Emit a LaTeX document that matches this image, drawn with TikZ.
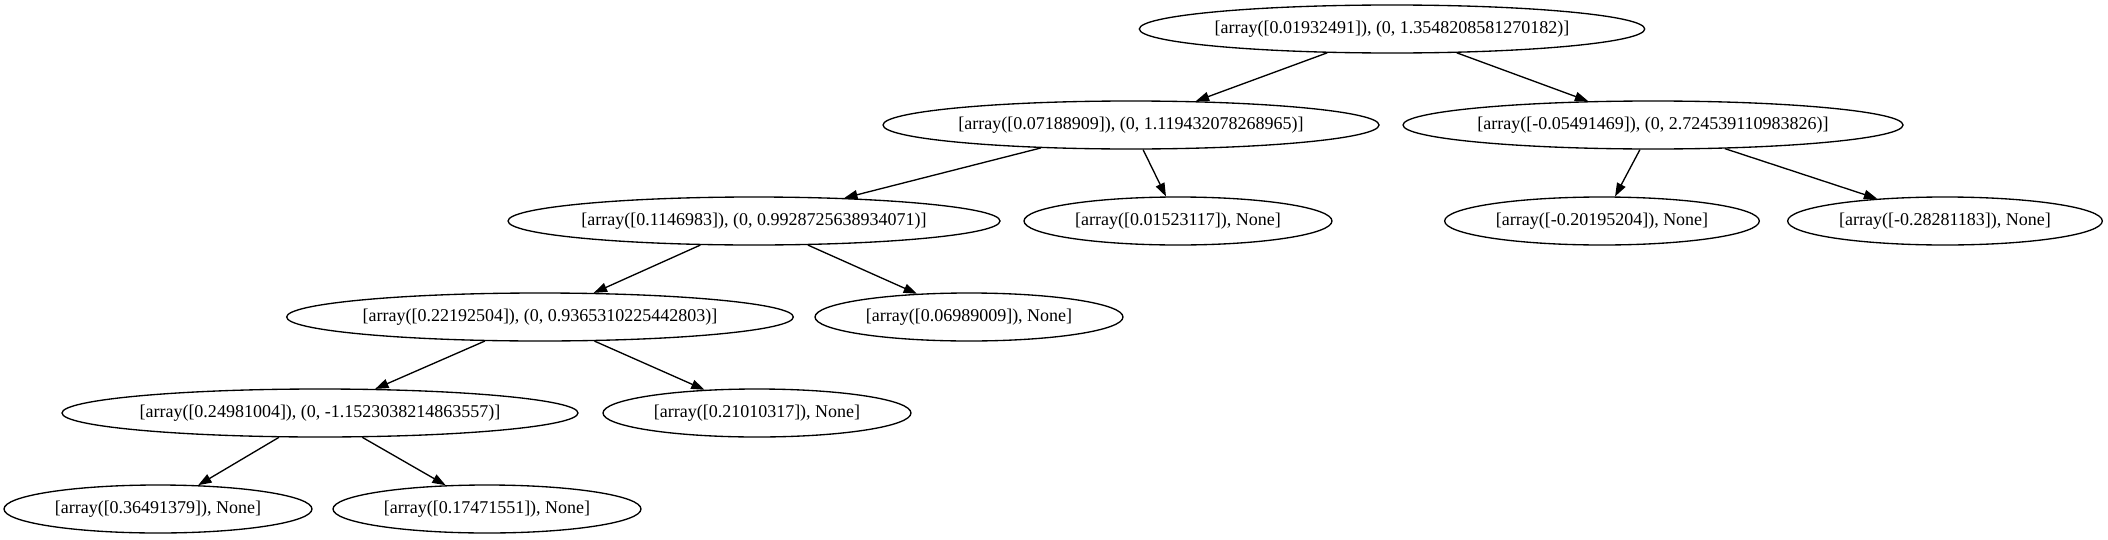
\documentclass[tikz,border=0pt]{standalone}
\usepackage{fontspec}
\setmainfont{Liberation Serif}
\usetikzlibrary{shapes.geometric,arrows.meta}

\tikzstyle{split} = [draw, ellipse, line width=1pt, inner xsep=-60pt, inner ysep=0pt, minimum height=36pt, minimum width=378pt, font=\fontsize{13.5pt}{16pt}\selectfont]
\tikzstyle{leaf} = [split, minimum width=231pt]
\tikzstyle{line} = [draw, line width=1pt, -{Triangle[length=10pt,width=7pt]}]

\begin{document}
\begin{tikzpicture}[x=0.75pt,y=-0.75pt]
\useasboundingbox (0,0) rectangle (2108,539);
%nodes, one row per depth
\node[split,minimum width=379pt] (n0) at (1392,29) {[array([0.01932491]), (0, 1.3548208581270182)]};
\node[split,minimum width=372pt] (n1) at (1131,125) {[array([0.07188909]), (0, 1.119432078268965)]};
\node[split,minimum width=375pt] (n2) at (1653,125) {[array([-0.05491469]), (0, 2.724539110983826)]};
\node[split,minimum width=369pt] (n3) at (754,221) {[array([0.1146983]), (0, 0.9928725638934071)]};
\node[leaf] (n4) at (1178,221) {[array([0.01523117]), None]};
\node[leaf,minimum width=236pt] (n5) at (1602,221) {[array([-0.20195204]), None]};
\node[leaf,minimum width=236pt] (n6) at (1945,221) {[array([-0.28281183]), None]};
\node[split,minimum width=380pt] (n7) at (540,317) {[array([0.22192504]), (0, 0.9365310225442803)]};
\node[leaf] (n8) at (969,317) {[array([0.06989009]), None]};
\node[split,minimum width=387pt] (n9) at (320,413) {[array([0.24981004]), (0, -1.1523038214863557)]};
\node[leaf] (n10) at (757,413) {[array([0.21010317]), None]};
\node[leaf] (n11) at (158,509) {[array([0.36491379]), None]};
\node[leaf] (n12) at (487,509) {[array([0.17471551]), None]};

%edges
\path [line] (n0) -- (n1);
\path [line] (n0) -- (n2);
\path [line] (n1) -- (n3);
\path [line] (n1) -- (n4);
\path [line] (n2) -- (n5);
\path [line] (n2) -- (n6);
\path [line] (n3) -- (n7);
\path [line] (n3) -- (n8);
\path [line] (n7) -- (n9);
\path [line] (n7) -- (n10);
\path [line] (n9) -- (n11);
\path [line] (n9) -- (n12);
\end{tikzpicture}
\end{document}
